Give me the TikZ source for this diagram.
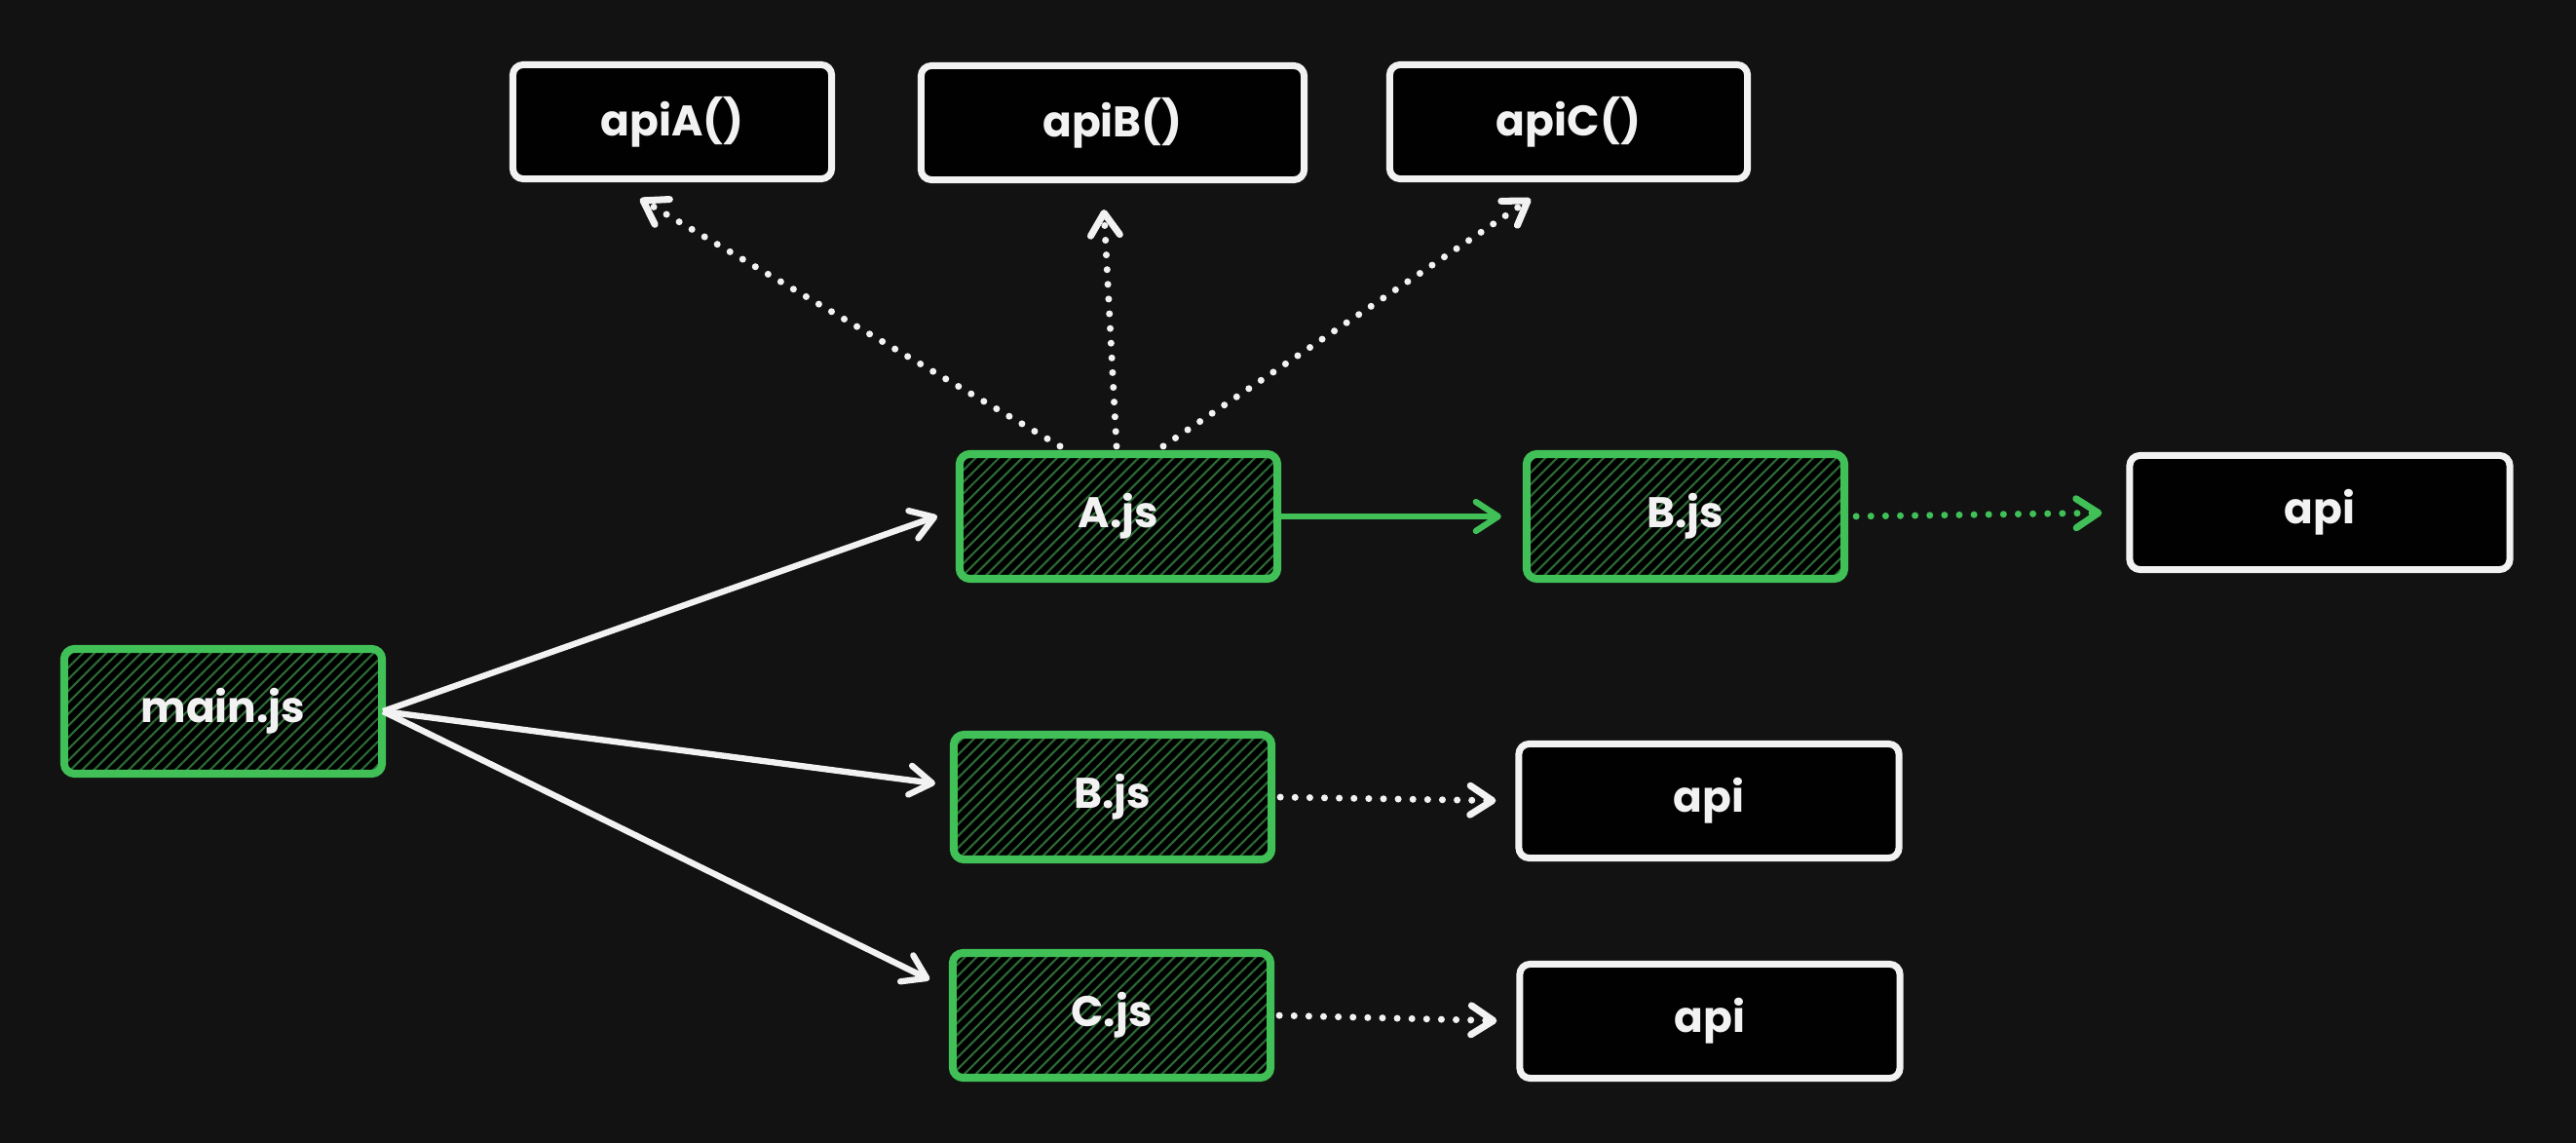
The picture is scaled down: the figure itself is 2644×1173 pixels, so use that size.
\documentclass[tikz,border=0pt]{standalone}
\usepackage{fontspec}
\setmainfont{Poppins}
\usetikzlibrary{arrows.meta,patterns.meta,calc}
\definecolor{bg}{HTML}{121212}
\definecolor{grn}{HTML}{40C057}
\definecolor{hatch}{HTML}{2C6A35}
\definecolor{ink}{HTML}{F2F2F2}
\begin{document}
\begin{tikzpicture}[x=0.01cm, y=-0.01cm, line join=round,
  >={Straight Barb[length=6.5pt,width=8.5pt,round]}]
\tikzstyle{module} = [draw=grn, line width=2.3pt, rounded corners=3pt,
  minimum width=3.26cm, minimum height=1.28cm, preaction={fill=black},
  pattern={Lines[angle=45,distance=2.4pt,line width=0.6pt]}, pattern color=hatch,
  text=ink, font=\fontsize{12.5}{14}\selectfont\bfseries]
\tikzstyle{apibox} = [draw=ink, line width=2pt, rounded corners=3pt, fill=black!95!bg,
  minimum width=3.9cm, minimum height=1.17cm,
  text=ink, font=\fontsize{12.5}{14}\selectfont\bfseries]
\tikzstyle{link} = [draw=ink, line width=1.8pt, ->]
\tikzstyle{dots} = [line width=2pt, line cap=round, dash pattern=on 0pt off 4.3pt, ->]
  \fill[bg] (0,0) rectangle (2644,1173);
  \useasboundingbox (0,0) rectangle (2644,1173);
  % modules
  \node[module] (main) at (229,730) {main.js};
  \node[module] (ajs) at (1148,530) {A.js};
  \node[module] (bjs) at (1730,530) {B.js};
  \node[module] (bjs2) at (1142,818) {B.js};
  \node[module] (cjs) at (1141,1042) {C.js};
  % apis
  \node[apibox, minimum width=3.27cm] (apiA) at (690,125) {apiA()};
  \node[apibox, minimum width=3.93cm] (apiB) at (1142,126) {apiB()};
  \node[apibox, minimum width=3.67cm] (apiC) at (1610,125) {apiC()};
  \node[apibox] (api1) at (2381,526) {api};
  \node[apibox] (api2) at (1754,822) {api};
  \node[apibox] (api3) at (1755,1048) {api};
  % imports
  \draw[link, shorten >=0.2cm] (main.east) -- ($(ajs.west)+(0,-7)$);
  \draw[link, shorten >=0.15cm] (main.east) -- ($(bjs2.west)+(0,-12)$);
  \draw[link, shorten >=0.22cm] (main.east) -- ($(cjs.west)+(0,-27)$);
  \draw[link, draw=grn, shorten >=0.22cm] (ajs.east) -- (bjs.west);
  \draw[dots, grn, shorten <=0.08cm, shorten >=0.25cm] (bjs.east) -- (api1.west);
  \draw[dots, ink, shorten <=0.05cm, shorten >=0.2cm] (bjs2.east) -- (api2.west);
  \draw[dots, ink, shorten <=0.05cm, shorten >=0.2cm] (cjs.east) -- (api3.west);
  \draw[dots, ink] ($(ajs.north)+(-60,-4)$) -- ($(apiA.south)+(-33,17)$);
  \draw[dots, ink] ($(ajs.north)+(-2,-4)$) -- ($(apiB.south)+(-9,27)$);
  \draw[dots, ink] ($(ajs.north)+(46,-4)$) -- ($(apiC.south)+(-39,17)$);
\end{tikzpicture}
\end{document}
